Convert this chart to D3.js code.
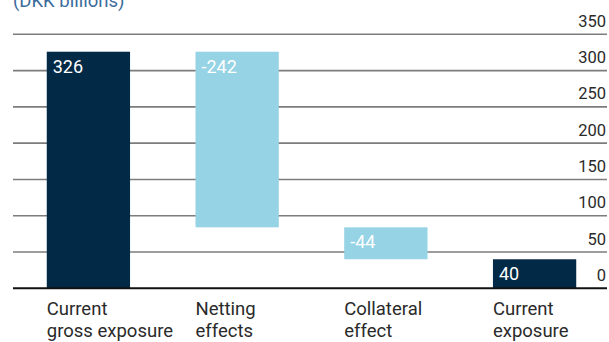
<!DOCTYPE html>
<html><head><meta charset="utf-8">
<script src="https://cdn.jsdelivr.net/npm/d3@7"></script>
<style>
html,body{margin:0;padding:0;background:#fff;}
svg{display:block;font-family:Roboto, "Open Sans", sans-serif;}
</style></head>
<body>
<svg id="c" width="609" height="342"></svg>
<script>
const categories = [["Current","gross exposure"],["Netting","effects"],["Collateral","effect"],["Current","exposure"]];
const barStart = [0, 326, 84, 0];
const barEnd = [326, 84, 40, 40];
const barLabels = ["326","-242","-44","40"];
const barTypes = ["total","delta","delta","total"];
const yTicks = [0,50,100,150,200,250,300,350];
const title = "(DKK billions)";

const colors = {total:"#022a46", delta:"#96d3e5"};
const svg = d3.select("#c");
const x = d3.scaleBand().domain(d3.range(categories.length)).range([13, 610]).paddingInner(0.44).paddingOuter(0.227);
const y = d3.scaleLinear().domain([0,350]).range([288.3, 34.3]);

svg.append("text").attr("x",13).attr("y",7).attr("fill","#3b6c9c").attr("font-size",18.5).text(title);

// gridlines
svg.append("g").selectAll("line").data(yTicks.filter(d=>d>0)).join("line")
  .attr("x1",13).attr("x2",607).attr("y1",d=>y(d)).attr("y2",d=>y(d))
  .attr("stroke","#7d7d7d").attr("stroke-width",1.6);
// tick labels
svg.append("g").selectAll("text").data(yTicks).join("text")
  .attr("x",606).attr("y",d=>y(d)-7.5).attr("text-anchor","end")
  .attr("font-size",16.5).attr("fill","#2a2a2a").text(d=>d);

// bars
const idx = d3.range(categories.length);
svg.append("g").selectAll("rect").data(idx).join("rect")
  .attr("x",i=>x(i)).attr("width",x.bandwidth())
  .attr("y",i=>y(Math.max(barStart[i],barEnd[i])))
  .attr("height",i=>Math.abs(y(barStart[i])-y(barEnd[i])))
  .attr("fill",i=>colors[barTypes[i]]);
svg.append("g").selectAll("text").data(idx).join("text")
  .attr("x",i=>x(i)+6)
  .attr("y",i=>y(Math.max(barStart[i],barEnd[i]))+21)
  .attr("font-size",18).attr("fill","#fff").text(i=>barLabels[i]);

// baseline
svg.append("line").attr("x1",13).attr("x2",607).attr("y1",y(0)).attr("y2",y(0))
  .attr("stroke","#111").attr("stroke-width",2);

// category labels
const cg = svg.append("g").selectAll("text").data(idx).join("text")
  .attr("x",i=>x(i)).attr("y",315).attr("font-size",18.5).attr("fill","#2a2a2a");
cg.selectAll("tspan").data(i=>categories[i]).join("tspan")
  .attr("x",function(){return x(d3.select(this.parentNode).datum());})
  .attr("dy",(d,j)=>j===0?0:22).text(d=>d);
</script>
</body></html>
